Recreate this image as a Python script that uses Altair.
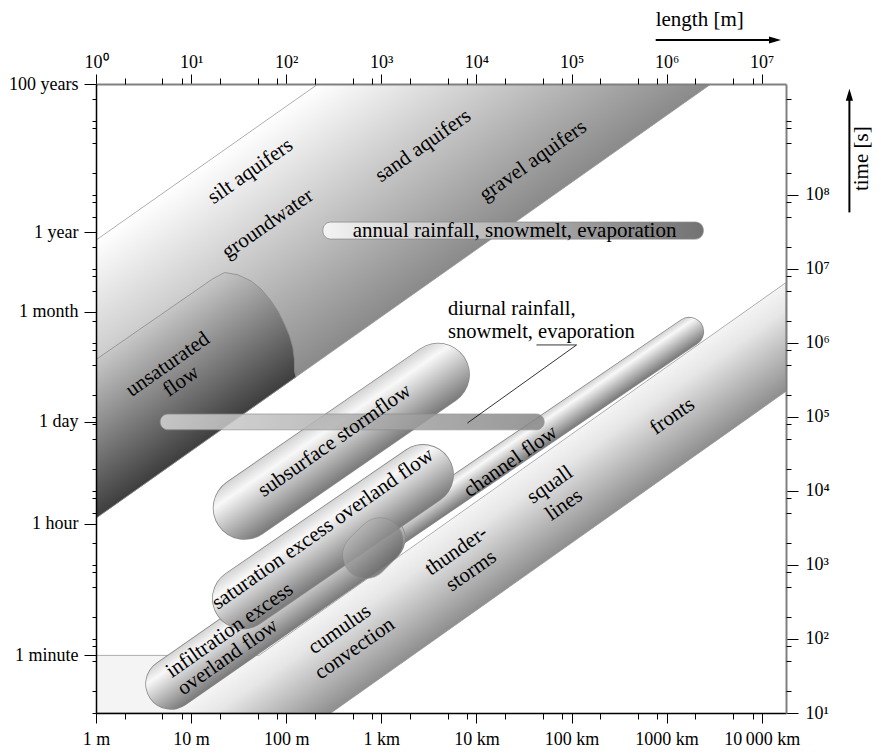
import math
import json
import altair as alt
import pandas as pd

# ---------------- scales ----------------
XMIN, XMAX = 1.0, 1.8e7        # length [m]
TMIN, TMAX = 10.0, 3.156e9     # time [s]
W, H = 690, 629
FONT = "Liberation Serif"

# ---------------- axis ticks / labels ----------------
length_major = [1, 10, 100, 1e3, 1e4, 1e5, 1e6, 1e7]
length_labels = ["1 m", "10 m", "100 m", "1 km", "10 km", "100 km", "1000 km", "10\u2009000 km"]
length_minor = [m * 10 ** n for n in range(0, 8) for m in (2, 5, 8) if m * 10 ** n <= XMAX]
superscripts = ["\u2070", "\u00b9", "\u00b2", "\u00b3", "\u2074", "\u2075", "\u2076", "\u2077", "\u2078", "\u2079"]
time_major = [1e1, 1e2, 1e3, 1e4, 1e5, 1e6, 1e7, 1e8]
time_minor = [m * 10 ** n for n in range(1, 10) for m in (2, 5, 8) if m * 10 ** n <= TMAX] + [1e9]
time_left_minor = [m * 10 ** n for n in range(1, 10) for m in (1, 2, 5, 8) if m * 10 ** n <= TMAX]
unit_values = [60, 3600, 86400, 2.63e6, 3.156e7, 3.156e9]
unit_labels = ["1 minute", "1 hour", "1 day", "1 month", "1 year", "100 years"]

# ---------------- shapes (length m, time s) ----------------
groundwater_L = [1, 216, 2.93e6, 1]
groundwater_T = [2.45e7, 3.156e9, 3.156e9, 4300]

unsat_L = [1, 17.0, 22.5, 31.0, 42.8, 54.8, 69.5, 82.8, 96.2, 108, 117.7, 122, 122.5, 126.5, 1]
unsat_T = [5.97e5, 7.4e6, 8.95e6, 8.36e6, 6.88e6, 5.31e6, 3.69e6, 2.63e6, 1.78e6, 1.26e6,
           8.61e5, 5.97e5, 4.15e5, 3.48e5, 4300]

atmos_L = [1, 51.6, 1.8e7, 1.8e7, 295.5, 1]
atmos_T = [60, 60, 6.55e6, 2.22e5, 10, 10]

channel_L, channel_T, channel_w = [569, 1.73e6], [1274, 1.42e6], 28
infil_L, infil_T, infil_w = [6.16, 962], [24.7, 2286], 50
dark_L, dark_T, dark_w = [690, 969], [1358, 2099], 46
satur_L, satur_T, satur_w = [35, 2748], [352, 1.65e4], 60
subsurf_L, subsurf_T, subsurf_w = [36.5, 3953], [5890, 3.74e5], 62

annual_L, annual_T = [243, 2.43e6], [2.53e7, 4.3e7]
diurnal_L, diurnal_T = [4.72, 5.16e4], [6.71e4, 1.096e5]

leader_L = [4.28e4, 1.13e5, 8040]
leader_T = [9.4e5, 9.4e5, 8.28e4]

diag_text = ["silt aquifers", "groundwater", "sand aquifers", "gravel aquifers",
             "unsaturated", "flow", "subsurface stormflow", "saturation excess overland flow",
             "infiltration excess", "overland flow", "cumulus", "convection",
             "thunder-", "storms", "squall", "lines", "channel flow", "fronts"]
diag_L = [42, 64, 2750, 3.95e4, 5.69, 7.85, 323, 243, 25.4, 24.3, 365, 525,
          6150, 8850, 5.93e4, 8.34e4, 2.29e4, 1.15e6]
diag_T = [2.08e8, 4.05e7, 4.61e8, 2.89e8, 5.12e5, 3.03e5, 4.8e4, 3055, 130.6, 56.8,
          134.6, 73.8, 1549, 828, 1.21e4, 6460, 2.5e4, 1.02e5]

annual_text, annual_text_L, annual_text_T = "annual rainfall, snowmelt, evaporation", 2.52e4, 3.3e7
diurnal_text = ["diurnal rainfall,", "snowmelt, evaporation"]
diurnal_text_L = [5040, 5040]
diurnal_text_T = [2.36e6, 1.17e6]

# ---------------- helpers ----------------
xs = alt.Scale(type="log", domain=[XMIN, XMAX], nice=False)
ys = alt.Scale(type="log", domain=[TMIN, TMAX], nice=False)


def to_px(L, T):
    x = W * (math.log10(L) - math.log10(XMIN)) / (math.log10(XMAX) - math.log10(XMIN))
    y = H * (math.log10(TMAX) - math.log10(T)) / (math.log10(TMAX) - math.log10(TMIN))
    return x, y


def stops_of(stops):
    return [{"offset": o, "color": c} for o, c in stops]


def across_gradient(box_pts, span_pts, direction, stops):
    """linear gradient (bbox units) whose iso-lines run parallel to `direction`"""
    bx = [p[0] for p in box_pts]
    by = [p[1] for p in box_pts]
    x0, y0 = min(bx), min(by)
    bw, bh = max(bx) - x0, max(by) - y0
    dx, dy = direction
    gx, gy = -dy / bh, dx / bw
    g2 = gx * gx + gy * gy
    proj = [(((x - x0) / bw) * gx + ((y - y0) / bh) * gy) / g2 for x, y in span_pts]
    p0, p1 = min(proj), max(proj)
    return {"gradient": "linear", "x1": round(p0 * gx, 5), "y1": round(p0 * gy, 5),
            "x2": round(p1 * gx, 5), "y2": round(p1 * gy, 5), "stops": stops_of(stops)}


def polygon_gradient(L, T, edge_idx, dir_idx, stops):
    pts = [to_px(l, t) for l, t in zip(L, T)]
    a, b = pts[dir_idx[0]], pts[dir_idx[1]]
    return across_gradient(pts, [pts[i] for i in edge_idx], (b[0] - a[0], b[1] - a[1]), stops)


def capsule_gradient(L, T, width, stops):
    a = to_px(L[0], T[0])
    b = to_px(L[1], T[1])
    dx, dy = b[0] - a[0], b[1] - a[1]
    ln = math.hypot(dx, dy)
    nx, ny = -dy / ln, dx / ln
    hw = width / 2
    span = [(p[0] + s * hw * nx, p[1] + s * hw * ny) for p in (a, b) for s in (-1, 1)]
    return across_gradient([a, b], span, (dx, dy), stops)


def enc_xy():
    return dict(x=alt.X("L:Q", scale=xs, axis=None), y=alt.Y("T:Q", scale=ys, axis=None), order="i:Q")


def polygon(L, T, fill, stroke="#9a9a9a", sw=0.8):
    df = pd.DataFrame({"L": L, "T": T, "i": list(range(len(L)))})
    return alt.Chart(df).mark_line(interpolate="linear-closed", fill=fill, stroke=stroke,
                                   strokeWidth=sw, clip=True).encode(**enc_xy())


CAPSULE_STOPS = [(0, "#d4d4d4"), (0.22, "#f8f8f8"), (1, "#7a7a7a")]


def capsule(L, T, width, stops=CAPSULE_STOPS, opacity=1.0):
    df = pd.DataFrame({"L": L, "T": T, "i": [0, 1]})
    outline = alt.Chart(df).mark_line(stroke="#8a8a8a", strokeWidth=width + 1.6, strokeCap="round",
                                      opacity=opacity).encode(**enc_xy())
    body = alt.Chart(df).mark_line(stroke=capsule_gradient(L, T, width, stops), strokeWidth=width,
                                   strokeCap="round", opacity=opacity).encode(**enc_xy())
    return [outline, body]


def hbar(L, T, stops, opacity=1.0):
    df = pd.DataFrame({"L1": [L[0]], "L2": [L[1]], "T1": [T[0]], "T2": [T[1]]})
    grad = {"gradient": "linear", "x1": 0, "y1": 0, "x2": 1, "y2": 0, "stops": stops_of(stops)}
    return alt.Chart(df).mark_rect(fill=grad, stroke="#8a8a8a", strokeWidth=0.8, cornerRadius=8,
                                   opacity=opacity).encode(
        x=alt.X("L1:Q", scale=xs, axis=None), x2="L2:Q",
        y=alt.Y("T1:Q", scale=ys, axis=None), y2="T2:Q")


dummy = pd.DataFrame({"a": [0]})

# ---------------- layers ----------------
layers = []
layers.append(polygon(groundwater_L, groundwater_T,
                      polygon_gradient(groundwater_L, groundwater_T, [0, 1, 2, 3], [3, 2],
                                       [(0, "#ffffff"), (1, "#8a8a8a")])))
layers.append(polygon(unsat_L, unsat_T,
                      polygon_gradient(unsat_L, unsat_T, [0, 1, 13, 14], [14, 13],
                                       [(0, "#c8c8c8"), (1, "#3e3e3e")]), stroke="#8a8a8a"))
layers.append(hbar(annual_L, annual_T, [(0, "#f4f4f4"), (1, "#727272")]))
layers.append(polygon(atmos_L, atmos_T,
                      polygon_gradient(atmos_L, atmos_T, [1, 2, 3, 4], [4, 3],
                                       [(0, "#f4f4f4"), (0.25, "#e6e6e6"), (1, "#8e8e8e")])))
layers += capsule(channel_L, channel_T, channel_w)
layers += capsule(infil_L, infil_T, infil_w)
layers += capsule(satur_L, satur_T, satur_w)
layers += capsule(dark_L, dark_T, dark_w, [(0, "#c4c4c4"), (1, "#5e5e5e")], opacity=0.6)
layers += capsule(subsurf_L, subsurf_T, subsurf_w)
layers.append(hbar(diurnal_L, diurnal_T, [(0, "#d6d6d6"), (1, "#858585")], opacity=0.85))

leader_df = pd.DataFrame({"L": leader_L, "T": leader_T, "i": [0, 1, 2]})
layers.append(alt.Chart(leader_df).mark_line(color="black", strokeWidth=0.8).encode(**enc_xy()))

diag_df = pd.DataFrame({"text": diag_text, "L": diag_L, "T": diag_T})
layers.append(alt.Chart(diag_df).mark_text(angle=325, align="center", baseline="middle", font=FONT,
                                           fontSize=21, color="black").encode(
    x=alt.X("L:Q", scale=xs, axis=None), y=alt.Y("T:Q", scale=ys, axis=None), text="text:N"))

ann_df = pd.DataFrame({"text": [annual_text], "L": [annual_text_L], "T": [annual_text_T]})
layers.append(alt.Chart(ann_df).mark_text(align="center", baseline="middle", font=FONT,
                                          fontSize=21, color="black").encode(
    x=alt.X("L:Q", scale=xs, axis=None), y=alt.Y("T:Q", scale=ys, axis=None), text="text:N"))

di_df = pd.DataFrame({"text": diurnal_text, "L": diurnal_text_L, "T": diurnal_text_T})
layers.append(alt.Chart(di_df).mark_text(align="left", baseline="alphabetic", font=FONT,
                                         fontSize=20.5, color="black").encode(
    x=alt.X("L:Q", scale=xs, axis=None), y=alt.Y("T:Q", scale=ys, axis=None), text="text:N"))

# ---- axis names with arrows ----
layers.append(alt.Chart(dummy).mark_text(text="length [m]", align="left", baseline="alphabetic",
                                         font=FONT, fontSize=21, color="black").encode(
    x=alt.value(559.7), y=alt.value(-58)))
layers.append(alt.Chart(dummy).mark_rule(color="black", strokeWidth=2).encode(
    x=alt.value(559.7), x2=alt.value(679), y=alt.value(-44)))
layers.append(alt.Chart(dummy).mark_point(shape="M-1,-0.6L1,0L-1,0.6Z", size=144, filled=True,
                                          color="black", opacity=1).encode(
    x=alt.value(679), y=alt.value(-44)))
layers.append(alt.Chart(dummy).mark_text(text="time [s]", angle=270, align="center", baseline="middle",
                                         font=FONT, fontSize=21, color="black").encode(
    x=alt.value(766), y=alt.value(74.7)))
layers.append(alt.Chart(dummy).mark_rule(color="black", strokeWidth=2).encode(
    x=alt.value(753.4), y=alt.value(128.4), y2=alt.value(11)))
layers.append(alt.Chart(dummy).mark_point(shape="M-0.6,1L0,-1L0.6,1Z", size=144, filled=True,
                                          color="black", opacity=1).encode(
    x=alt.value(753.4), y=alt.value(10.7)))

# ---- axes ----
common = dict(title=None, grid=False, labelFont=FONT, labelFontSize=18, labelColor="black",
              tickColor="black", tickWidth=1, labelFlush=False, labelOverlap=False)

sup_js = json.dumps(superscripts, ensure_ascii=False)
exp_expr = "'10' + " + sup_js + "[round(log(datum.value)/LN10)]"
len_expr = json.dumps(length_labels, ensure_ascii=False) + "[round(log(datum.value)/LN10)]"
unit_expr = json.dumps(unit_labels) + "[indexof(" + json.dumps(unit_values) + ", datum.value)]"


def x_axis(**kw):
    return alt.Chart(pd.DataFrame({"v": [XMIN]})).mark_point(opacity=0).encode(
        x=alt.X("v:Q", scale=xs, axis=alt.Axis(**common, **kw)))


def y_axis(**kw):
    return alt.Chart(pd.DataFrame({"v": [TMIN]})).mark_point(opacity=0).encode(
        y=alt.Y("v:Q", scale=ys, axis=alt.Axis(**common, **kw)))


layers.append(x_axis(orient="bottom", values=length_major, labelExpr=len_expr, tickSize=10,
                     labelPadding=7, domainColor="black", domainWidth=1.3, zindex=1))
layers.append(x_axis(orient="bottom", values=length_minor, labels=False, domain=False, tickSize=6, zindex=1))
layers.append(x_axis(orient="top", values=length_major, labelExpr=exp_expr, tickSize=10,
                     labelPadding=3, domainColor="#808080", domainWidth=2, zindex=1))
layers.append(x_axis(orient="top", values=length_minor, labels=False, domain=False, tickSize=6, zindex=1))
layers.append(y_axis(orient="left", values=unit_values, labelExpr=unit_expr, tickSize=12,
                     labelPadding=6, domainColor="black", domainWidth=1.5, zindex=1))
layers.append(y_axis(orient="left", values=time_left_minor, labels=False, domain=False, tickSize=4, zindex=1))
layers.append(y_axis(orient="right", values=time_major, labelExpr=exp_expr, tickSize=12,
                     labelPadding=7, domainColor="#808080", domainWidth=2, zindex=1))
layers.append(y_axis(orient="right", values=time_minor, labels=False, domain=False, tickSize=5, zindex=1))

chart = alt.layer(*layers).resolve_scale(x="shared", y="shared").resolve_axis(
    x="independent", y="independent").properties(
    width=W, height=H,
    padding={"left": 88, "top": 76, "right": 87, "bottom": 34},
    autosize=alt.AutoSizeParams(type="none"),
).configure_view(stroke=None)

chart.save("out.html", embed_options={"renderer": "svg", "actions": False})
